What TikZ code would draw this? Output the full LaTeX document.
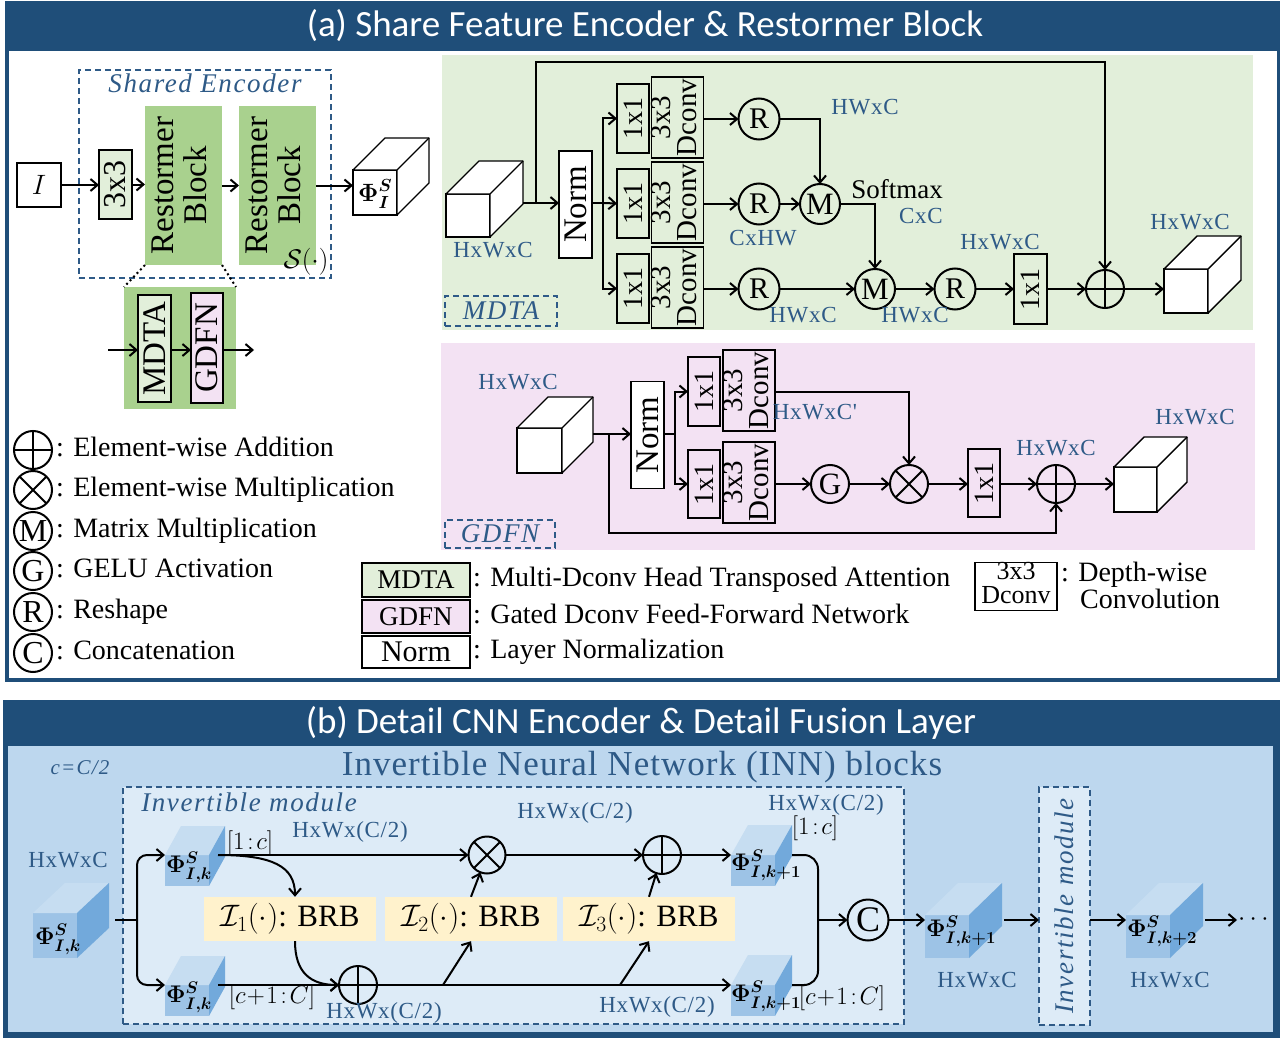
\documentclass[tikz,border=0pt]{standalone}
\usepackage{fix-cm}
\usepackage{amsmath}
\usepackage[no-math]{fontspec}
\setmainfont{Liberation Serif}
\newfontfamily\titlefont{Carlito}
\newfontfamily\dimfont[LetterSpace=3]{Liberation Serif}
\newfontfamily\itfont[LetterSpace=6]{Liberation Serif}
\newfontfamily\bigfont[LetterSpace=3]{Liberation Serif}
\usepackage{graphicx}
\usetikzlibrary{arrows.meta,calc}
\definecolor{dkblue}{HTML}{1F4E79}
\definecolor{lblue}{HTML}{2E5A87}
\definecolor{dashc}{HTML}{2E5A87}
\definecolor{rgreen}{HTML}{A9D18E}
\definecolor{lgreen}{HTML}{E2EFDA}
\definecolor{lpink}{HTML}{F3E2F3}
\definecolor{bgb}{HTML}{BDD7EE}
\definecolor{modfill}{HTML}{DDEBF7}
\definecolor{cream}{HTML}{FFF2CC}
\definecolor{cfront}{HTML}{9DC3E6}
\definecolor{ctop}{HTML}{C6DDF1}
\definecolor{cside}{HTML}{72A9DB}
\newcommand\fsz[2]{\fontsize{#1}{#2}\selectfont}
\newcommand\myrot[1]{\rotatebox{90}{#1}}
\newcommand\myrott[2]{\rotatebox{90}{\begin{tabular}{@{}c@{}}#1\\#2\end{tabular}}}
\newcommand\twol[2]{\begin{tabular}{@{}c@{}}#1\\#2\end{tabular}}
% plain white cube: name, center, w, h, depth
\newcommand\plaincube[5]{%
 \node[draw,line width=1.4pt,fill=white,inner sep=0pt,outer sep=0pt,minimum width=#3pt,minimum height=#4pt] (#1) at (#2) {};
 \draw[line width=1.4pt,line join=round,fill=white] (#1.north west) -- ++(#5,-#5) -- ++(#3,0) -- ++(0,#4) -- (#1.south east) -- (#1.north east) -- cycle;
 \draw[line width=1.4pt] (#1.north east) -- ++(#5,-#5);}
% blue cube: name, center, w, h, dx, dy(up)
\newcommand\bluecube[6]{%
 \node[fill=cfront,inner sep=0pt,outer sep=0pt,minimum width=#3pt,minimum height=#4pt] (#1) at (#2) {};
 \fill[ctop] (#1.north west) -- ++(#5,-#6) -- ++(#3,0) -- (#1.north east) -- cycle;
 \fill[cside] (#1.north east) -- ++(#5,-#6) -- ++(0,#4) -- (#1.south east) -- cycle;}
\begin{document}
\begin{tikzpicture}[x=1pt,y=-1pt,font=\fsz{28}{30},
 ln/.style={line width=2pt},
 arr/.style={line width=2pt,-{Straight Barb[length=7pt,width=12pt]}},
 bx/.style={draw,line width=1.3pt,inner sep=0pt,outer sep=0pt},
 op/.style={circle,draw,line width=2pt,inner sep=0pt,outer sep=0pt,minimum size=40pt},
 opl/.style={op,path picture={\draw[line width=2pt] (path picture bounding box.north) -- (path picture bounding box.south) (path picture bounding box.west) -- (path picture bounding box.east);}},
 opx/.style={op,path picture={\draw[line width=2pt] ($(path picture bounding box.center)+(45:30pt)$) -- ($(path picture bounding box.center)+(225:30pt)$) ($(path picture bounding box.center)+(135:30pt)$) -- ($(path picture bounding box.center)+(-45:30pt)$);}},
 dim/.style={text=lblue,font=\dimfont\fsz{23}{25},inner sep=0pt},
 itl/.style={text=lblue,font=\itfont\itshape\fsz{27}{29},inner sep=0pt},
 dashbox/.style={draw=dashc,dash pattern=on 6pt off 4pt,line width=1.3pt,inner sep=0pt,outer sep=0pt},
 lt/.style={anchor=west,inner sep=0pt,text height=18pt,text depth=5pt},
 phil/.style={anchor=base west,inner sep=0pt,font=\fsz{24}{26}},
 ]
\useasboundingbox (0,0) rectangle (1280,1038);
\fill[white] (0,0) rectangle (1280,1038);
% ---------------- panel frames
\fill[dkblue] (5,1) rectangle (1280,682);
\fill[white] (9,51) rectangle (1277,678);
\node[text=white,font=\titlefont\fsz{37}{39}] (ta) at (645,26) {(a) Share Feature Encoder \& Restormer Block};
\fill[dkblue] (3,700) rectangle (1280,1038);
\fill[bgb] (8,746) rectangle (1273,1032);
\node[text=white,font=\titlefont\fsz{37}{39}] (tb) at (641,723) {(b) Detail CNN Encoder \& Detail Fusion Layer};

% ---------------- shared encoder
\node[dashbox,minimum width=252pt,minimum height=208pt] (se) at (205,174) {};
\node[itl] (sel) at (205,83) {Shared Encoder};
\node[bx,minimum width=44pt,minimum height=44pt,font=\fsz{28}{30}] (I) at (39,185) {$I$};
\node[bx,fill=lgreen,minimum width=33pt,minimum height=69pt,font=\fsz{32}{34}] (c33) at (115.5,184.5) {\myrot{3x3}};
\node[fill=rgreen,inner sep=0pt,outer sep=0pt,minimum width=77pt,minimum height=159pt,font=\fsz{33}{33}] (rb1) at (183.5,185.5) {\myrott{Restormer}{Block}};
\node[fill=rgreen,inner sep=0pt,outer sep=0pt,minimum width=77pt,minimum height=159pt,font=\fsz{33}{33}] (rb2) at (277.5,185.5) {\myrott{Restormer}{Block}};
\node[font=\fsz{27}{29},inner sep=0pt] (sdot) at (306,262) {$\mathcal{S}(\cdot)$};
\plaincube{phiI}{375,192.5}{44}{45}{32}
\node[phil,font=\fsz{25}{27}] (phiIt) at (358,201) {$\boldsymbol{\Phi^{S}_{I}}$};
\draw[arr] (I.east) -- (I.east -| c33.west);
\draw[arr] (c33.east) -- (c33.east -| rb1.west);
\draw[arr] (rb1.east) -- (rb1.east -| rb2.west);
\draw[arr] (rb2.east) -- (rb2.east -| phiI.west);
% zoomed restormer block
\node[fill=rgreen,inner sep=0pt,outer sep=0pt,minimum width=112pt,minimum height=122pt] (zb) at (180,348) {};
\draw[line width=2pt,dash pattern=on 2pt off 3pt] (rb1.south west) -- (zb.north west) (rb1.south east) -- (zb.north east);
\node[bx,fill=lgreen,minimum width=33pt,minimum height=107pt,font=\fsz{33}{33}] (mdta) at (154.5,348.5) {\myrot{MDTA}};
\node[bx,fill=lpink,minimum width=32pt,minimum height=110pt,font=\fsz{33}{33}] (gdfn) at (207,348) {\myrot{GDFN}};
\coordinate (zin) at (108,350);
\coordinate (zout) at (254,350);
\draw[arr] (zin) -- (zin -| mdta.west);
\draw[arr] (mdta.east |- zin) -- (zin -| gdfn.west);
\draw[arr] (gdfn.east |- zin) -- (zout);

% ---------------- left legend
\node[opl,minimum size=38pt] (lg1) at (33,450) {};
\node[lt] (lg1t) at (56,450) {: Element-wise Addition};
\node[opx,minimum size=38pt] (lg2) at (33,490) {};
\node[lt] (lg2t) at (56,490) {: Element-wise Multiplication};
\node[op,minimum size=38pt,font=\fsz{32}{32}] (lg3) at (33,531) {M};
\node[lt] (lg3t) at (56,531) {: Matrix Multiplication};
\node[op,minimum size=38pt,font=\fsz{32}{32}] (lg4) at (33,571) {G};
\node[lt] (lg4t) at (56,571) {: GELU Activation};
\node[op,minimum size=38pt,font=\fsz{32}{32}] (lg5) at (33,612) {R};
\node[lt] (lg5t) at (56,612) {: Reshape};
\node[op,minimum size=38pt,font=\fsz{32}{32}] (lg6) at (33,653) {C};
\node[lt] (lg6t) at (56,653) {: Concatenation};

% ---------------- right legend
\node[bx,line width=1.2pt,fill=lgreen,minimum width=108pt,minimum height=34pt,font=\fsz{27}{29}] (lmd) at (416,580) {MDTA};
\node[lt] (lmdt) at (473,580) {: Multi-Dconv Head Transposed Attention};
\node[bx,line width=1.2pt,fill=lpink,minimum width=108pt,minimum height=33pt,font=\fsz{27}{29}] (lgd) at (416,616.5) {GDFN};
\node[lt] (lgdt) at (473,616.5) {: Gated Dconv Feed-Forward Network};
\node[bx,line width=1.2pt,fill=white,minimum width=108pt,minimum height=32pt,font=\fsz{30}{32}] (lno) at (416,652) {Norm};
\node[lt] (lnot) at (473,652) {: Layer Normalization};
\node[bx,line width=1.2pt,minimum width=82pt,minimum height=47pt,font=\fsz{26}{23}] (ldc) at (1016,586.5) {\twol{3x3}{Dconv}};
\node[lt] (ldct1) at (1061,575) {: Depth-wise};
\node[lt] (ldct2) at (1080,602) {Convolution};

% ---------------- MDTA
\fill[lgreen] (442,55) rectangle (1253,330);
\plaincube{cin}{468,215.5}{44}{43}{33}
\node[dim] (cinl) at (493,250) {HxWxC};
\node[bx,fill=white,minimum width=33pt,minimum height=107pt,font=\fsz{33}{33}] (norm) at (575.5,204.5) {\myrot{Norm}};
\coordinate (cinr) at (523,203);
\coordinate (j1) at (536,203);
\coordinate (sk) at (536,62);
\coordinate (j2) at (603,203);
\draw[arr] (cinr) -- (cinr -| norm.west);
\foreach \n/\y in {k1/118.5,k2/203.5,k3/288.5}{
 \node[bx,fill=lgreen,minimum width=32pt,minimum height=69pt,font=\fsz{28}{28}] (\n) at (633,\y) {\myrot{1x1}};}
\foreach \n/\y in {d1/117.5,d2/202.5,d3/287.5}{
 \node[bx,fill=lgreen,minimum width=49pt,minimum height=81pt,font=\fsz{29}{23}] (\n) at (677.5,\y) {\myrott{3x3}{Dconv}};}
\draw[ln] (norm.east |- j2) -- (j2);
\draw[arr] (j2) |- (k1.west);
\draw[arr] (j2) -- (k2.west);
\draw[arr] (j2) |- (k3.west);
\node[op,minimum size=41pt,font=\fsz{30}{30}] (r1) at (759,119) {R};
\node[op,minimum size=41pt,font=\fsz{30}{30}] (r2) at (759,204) {R};
\node[op,minimum size=41pt,font=\fsz{30}{30}] (r3) at (759,289) {R};
\node[op,minimum size=40pt,font=\fsz{31}{31}] (m1) at (820,204) {M};
\node[op,minimum size=40pt,font=\fsz{31}{31}] (m2) at (875,289) {M};
\node[op,minimum size=41pt,font=\fsz{30}{30}] (r4) at (955,289) {R};
\node[bx,fill=lgreen,minimum width=33pt,minimum height=70pt,font=\fsz{28}{28}] (k4) at (1030.5,289) {\myrot{1x1}};
\node[opl,minimum size=38pt] (addm) at (1105,289) {};
\plaincube{cout}{1186,291}{44}{44}{33}
\draw[arr] (d1.east |- r1) -- (r1.west);
\draw[arr] (d2.east |- r2) -- (r2.west);
\draw[arr] (d3.east |- r3) -- (r3.west);
\draw[arr] (r1.east) -| (m1.north);
\draw[arr] (r2.east) -- (m1.west);
\draw[arr] (m1.east) -| (m2.north);
\draw[arr] (r3.east) -- (m2.west);
\draw[arr] (m2.east) -- (r4.west);
\draw[arr] (r4.east) -- (r4.east -| k4.west);
\draw[arr] (k4.east |- addm) -- (addm.west);
\draw[arr] (addm.east) -- (addm.east -| cout.west);
\draw[arr] (j1) -- (sk) -| (addm.north);
\node[inner sep=0pt,font=\fsz{27}{29}] (smx) at (897,189) {Softmax};
\node[dim] (l1) at (865,107) {HWxC};
\node[dim] (l2) at (763,238) {CxHW};
\node[dim] (l3) at (803,315) {HWxC};
\node[dim] (l4) at (921,216) {CxC};
\node[dim] (l5) at (915,315) {HWxC};
\node[dim] (l6) at (1000,242) {HxWxC};
\node[dim] (l7) at (1190,222) {HxWxC};
\node[dashbox,minimum width=112pt,minimum height=30pt,itl] (mdtal) at (501,311) {MDTA};

% ---------------- GDFN
\fill[lpink] (441,343) rectangle (1255,550);
\plaincube{gin}{539.5,450.5}{45}{45}{31}
\node[dim] (gl0) at (518,382) {HxWxC};
\node[bx,fill=white,minimum width=33pt,minimum height=107pt,font=\fsz{33}{33}] (norm2) at (647.5,435) {\myrot{Norm}};
\coordinate (ginr) at (593,434);
\coordinate (gj) at (609,434);
\coordinate (gsk) at (609,533);
\coordinate (gj2) at (675,434);
\draw[arr] (ginr) -- (ginr -| norm2.west);
\draw[ln] (norm2.east |- gj2) -- (gj2);
\node[bx,fill=lpink,minimum width=32pt,minimum height=69pt,font=\fsz{28}{28}] (g1) at (704,391.5) {\myrot{1x1}};
\node[bx,fill=lpink,minimum width=32pt,minimum height=68pt,font=\fsz{28}{28}] (g2) at (704,484) {\myrot{1x1}};
\node[bx,fill=lpink,minimum width=48pt,minimum height=81pt,font=\fsz{29}{23}] (gd1) at (749,390.5) {\myrott{3x3}{Dconv}};
\node[bx,fill=lpink,minimum width=48pt,minimum height=81pt,font=\fsz{29}{23}] (gd2) at (749,482.5) {\myrott{3x3}{Dconv}};
\draw[arr] (gj2) |- (g1.west);
\draw[arr] (gj2) |- (g2.west);
\node[op,minimum size=38pt,font=\fsz{31}{31}] (gelu) at (830,484) {G};
\node[opx,minimum size=38pt] (mul) at (909,484) {};
\node[bx,fill=lpink,minimum width=32pt,minimum height=68pt,font=\fsz{28}{28}] (k5) at (984,483) {\myrot{1x1}};
\node[opl,minimum size=38pt] (addg) at (1056,484) {};
\plaincube{gout}{1135.5,489.5}{43}{45}{30}
\draw[arr] (gd1.east |- g1) -| (mul.north);
\draw[arr] (gelu.west -| gd2.east) -- (gelu.west);
\draw[arr] (gelu.east) -- (mul.west);
\draw[arr] (mul.east) -- (mul.east -| k5.west);
\draw[arr] (k5.east |- addg) -- (addg.west);
\draw[arr] (addg.east) -- (addg.east -| gout.west);
\draw[arr] (gj) -- (gsk) -| (addg.south);
\node[dim] (gl1) at (815,412) {HxWxC'};
\node[dim] (gl2) at (1056,448) {HxWxC};
\node[dim] (gl3) at (1195,417) {HxWxC};
\node[dashbox,minimum width=110pt,minimum height=28pt,itl] (gdfnl) at (500,534) {GDFN};

% ---------------- panel (b)
\node[itl,font=\itfont\itshape\fsz{21}{23}] (cc) at (80,768) {c=C/2};
\node[text=lblue,font=\bigfont\fsz{35}{37},inner sep=0pt] (inn) at (642,767) {Invertible Neural Network (INN) blocks};
\node[dashbox,fill=modfill,minimum width=781pt,minimum height=237pt] (mod) at (513.5,905.5) {};
\node[itl] (modl) at (249,802) {Invertible module};
% input cube
\bluecube{inc}{55,935.5}{44}{45}{32}{30}
\node[phil] (incl) at (35,944) {$\boldsymbol{\Phi^{S}_{I,k}}$};
\node[dim] (incd) at (68,860) {HxWxC};
% split cubes
\bluecube{t1}{187,870.5}{44}{31}{16}{29}
\bluecube{b1}{187,1000.5}{44}{31}{16}{29}
\node[phil] (t1l) at (166,872) {$\boldsymbol{\Phi^{S}_{I,k}}$};
\node[phil] (b1l) at (166,1002) {$\boldsymbol{\Phi^{S}_{I,k}}$};
\coordinate (sin) at (115,920);
\coordinate (sj) at (137,920);
\draw[ln] (sin) -- (sj);
\draw[arr,rounded corners=10pt] (sj) |- (t1.north west);
\draw[arr,rounded corners=10pt] (sj) |- (b1.north west);
% BRB boxes
\node[fill=cream,inner sep=0pt,minimum width=172pt,minimum height=44pt,font=\fsz{31}{33}] (i1) at (290,919) {$\mathcal{I}_1(\cdot)$: BRB};
\node[fill=cream,inner sep=0pt,minimum width=172pt,minimum height=44pt,font=\fsz{31}{33}] (i2) at (471,919) {$\mathcal{I}_2(\cdot)$: BRB};
\node[fill=cream,inner sep=0pt,minimum width=172pt,minimum height=44pt,font=\fsz{31}{33}] (i3) at (649,919) {$\mathcal{I}_3(\cdot)$: BRB};
\node[opx,minimum size=37pt] (mul2) at (487,855) {};
\node[opl,minimum size=38pt] (add2) at (662,855) {};
\node[opl,minimum size=38pt] (add1) at (358,985) {};
\bluecube{t2}{753,870.5}{44}{31}{17}{30}
\bluecube{b2}{753,1000.5}{44}{31}{17}{30}
\node[phil] (t2l) at (731,870) {$\boldsymbol{\Phi^{S}_{I,k+1}}$};
\node[phil] (b2l) at (731,1001) {$\boldsymbol{\Phi^{S}_{I,k+1}}$};
\coordinate (t1o) at ([xshift=9pt]t1.north east);
\coordinate (b1o) at ([xshift=9pt]b1.north east);
\draw[arr] (t1o) -- (mul2.west);
\draw[arr] (t1o) .. controls (272,855) and (295,866) .. ([xshift=5pt]i1.north);
\draw[arr] ([xshift=5pt]i1.south) .. controls (295,972) and (310,985) .. (add1.west);
\draw[arr] (b1o) -- (add1.west);
\draw[arr] (add1.east) -- (b2.north west);
\coordinate (dg1) at (443,985);
\coordinate (dg2) at (620,985);
\draw[arr] (dg1) -- (i2.south);
\draw[arr] (dg2) -- (i3.south);
\draw[arr] (i2.north) -- (mul2);
\draw[arr] (i3.north) -- (add2);
\draw[arr] (mul2.east) -- (add2.west);
\draw[arr] (add2.east) -- (t2.north west);
% labels
\node[font=\fsz{25}{27},inner sep=0pt] (lb1) at (250,843) {$[1\!:\!c]$};
\node[font=\fsz{25}{27},inner sep=0pt] (lb2) at (272,997) {$[c\!+\!1\!:\!C]$};
\node[font=\fsz{25}{27},inner sep=0pt] (lb3) at (815,828) {$[1\!:\!c]$};
\node[font=\fsz{25}{27},inner sep=0pt] (lb4) at (842,998) {$[c\!+\!1\!:\!C]$};
\node[dim] (h1) at (350,832) {HxWx(C/2)};
\node[dim] (h2) at (575,813) {HxWx(C/2)};
\node[dim] (h3) at (826,805) {HxWx(C/2)};
\node[dim] (h4) at (384,1013) {HxWx(C/2)};
\node[dim] (h5) at (657,1007) {HxWx(C/2)};
% merge and concat
\coordinate (t2o) at ([xshift=17pt]t2.north east);
\coordinate (b2o) at ([xshift=17pt]b2.north east);
\coordinate (mj) at (818,920);
\draw[ln,rounded corners=14pt] (t2o) -- (818,855) -- (818,985) -- (b2o);
\node[op,minimum size=41pt,font=\fsz{36}{36}] (cat) at (868,920) {C};
\draw[arr] (mj) -- (cat.west);
\bluecube{o1}{947,936.5}{44}{43}{33}{32}
\node[phil] (o1l) at (926,936) {$\boldsymbol{\Phi^{S}_{I,k+1}}$};
\node[dim] (o1d) at (977,980) {HxWxC};
\draw[arr] (cat.east) -- (cat.east -| o1.west);
\node[dashbox,fill=modfill,minimum width=51pt,minimum height=238pt] (mod2) at (1064.5,906) {};
\node[itl,rotate=90] (mod2l) at (1064.5,906) {Invertible module};
\coordinate (o1s) at (1004,920);
\draw[arr] (o1s) -- (o1s -| mod2.west);
\bluecube{o2}{1148,936.5}{44}{43}{33}{32}
\node[phil] (o2l) at (1127,936) {$\boldsymbol{\Phi^{S}_{I,k+2}}$};
\node[dim] (o2d) at (1170,980) {HxWxC};
\draw[arr] (o1s -| mod2.east) -- (o1s -| o2.west);
\coordinate (o2s) at (1205,920);
\node[anchor=west,inner sep=1pt,font=\fsz{26}{28}] (dots) at (1237,920) {$\cdots$};
\draw[arr] (o2s) -- (dots.west);
\end{tikzpicture}
\end{document}
